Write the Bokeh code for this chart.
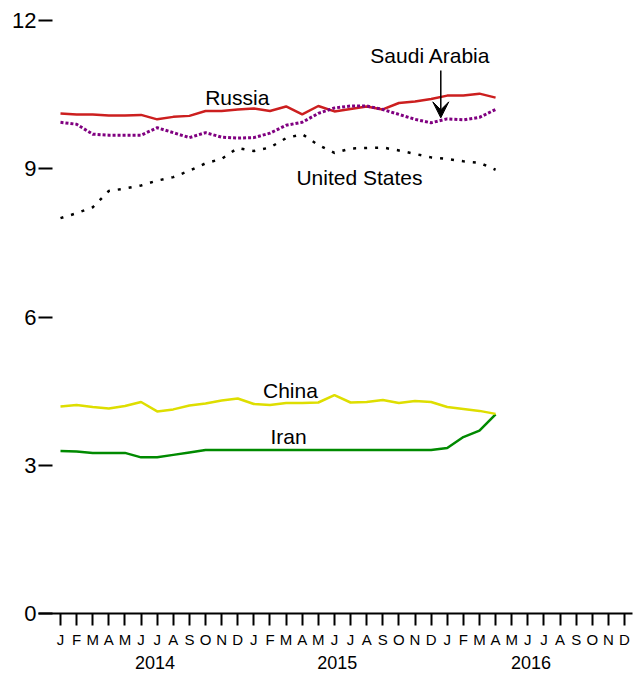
from bokeh.plotting import figure
from bokeh.models import Range1d, FixedTicker, LinearAxis, Arrow, VeeHead
from bokeh.core.properties import value
from bokeh.embed import file_html
from bokeh.resources import INLINE

# ---- data (monthly, Jan 2014 .. Apr 2016) ----
month_idx = list(range(28))
russia = [10.12, 10.10, 10.10, 10.08, 10.08, 10.09, 10.00, 10.05, 10.07, 10.17,
          10.17, 10.20, 10.22, 10.17, 10.26, 10.10, 10.27, 10.16, 10.21, 10.26,
          10.20, 10.33, 10.36, 10.41, 10.48, 10.48, 10.52, 10.44]
saudi = [9.94, 9.90, 9.70, 9.68, 9.68, 9.68, 9.83, 9.73, 9.63, 9.73,
         9.64, 9.62, 9.63, 9.72, 9.88, 9.94, 10.12, 10.23, 10.27, 10.27,
         10.20, 10.10, 10.00, 9.93, 10.01, 9.99, 10.04, 10.20]
usa = [8.00, 8.10, 8.22, 8.55, 8.60, 8.66, 8.76, 8.83, 8.96, 9.11,
       9.20, 9.42, 9.36, 9.43, 9.62, 9.70, 9.48, 9.32, 9.41, 9.42,
       9.43, 9.37, 9.30, 9.23, 9.20, 9.15, 9.12, 8.98]
china = [4.19, 4.22, 4.18, 4.15, 4.20, 4.28, 4.09, 4.13, 4.21, 4.25,
         4.31, 4.35, 4.24, 4.22, 4.26, 4.26, 4.27, 4.42, 4.27, 4.28,
         4.32, 4.26, 4.30, 4.28, 4.18, 4.14, 4.10, 4.04]
iran = [3.29, 3.28, 3.25, 3.25, 3.25, 3.16, 3.16, 3.21, 3.26, 3.31,
        3.31, 3.31, 3.31, 3.31, 3.31, 3.31, 3.31, 3.31, 3.31, 3.31,
        3.31, 3.31, 3.31, 3.31, 3.35, 3.57, 3.70, 4.03]

month_letters = ["J", "F", "M", "A", "M", "J", "J", "A", "S", "O", "N", "D"]
years = ["2014", "2015", "2016"]
year_pos = [5.86, 17.17, 29.2]
y_ticks = [0, 3, 6, 9, 12]

series_names = ["Russia", "Saudi Arabia", "United States", "China", "Iran"]
label_x = [10.97, 22.96, 18.55, 14.27, 14.15]
label_y = [10.442, 11.292, 8.813, 4.513, 3.572]

FONT = "Liberation Sans"

p = figure(width=640, height=674, output_backend="svg", toolbar_location=None,
           x_range=Range1d(-1.365, 35.497), y_range=Range1d(0, 12),
           min_border_left=38, min_border_right=8, min_border_top=20,
           min_border_bottom=61)
p.outline_line_color = None
p.xgrid.visible = False
p.ygrid.visible = False
p.background_fill_color = "white"

# lines
p.line(month_idx, iran, line_color="#008a00", line_width=2.5)
p.line(month_idx, china, line_color="#dede00", line_width=2.5)
p.line(month_idx, usa, line_color="black", line_width=2.5, line_dash="3 8")
p.line(month_idx, russia, line_color="#cc1f1f", line_width=2.5)
p.line(month_idx, saudi, line_color="#800080", line_width=3, line_dash="3 2")

# series labels
p.text(x=label_x, y=label_y, text=series_names, text_align="center",
       text_baseline="middle", text_font=value(FONT),
       text_font_size="21px", text_color="black")

# arrow for Saudi Arabia
p.add_layout(Arrow(end=VeeHead(size=16, fill_color="black", line_color="black"),
                   x_start=23.6, y_start=10.99, x_end=23.6, y_end=10.03,
                   line_width=1.5, line_color="black"))

# x axis (months)
xa = p.xaxis[0]
xa.ticker = FixedTicker(ticks=list(range(36)))
xa.major_label_overrides = {i: month_letters[i % 12] for i in range(36)}
xa.major_label_text_font = FONT
xa.major_label_text_font_size = "15px"
xa.major_label_text_color = "black"
xa.major_tick_out = 12
xa.major_tick_in = 0
xa.major_tick_line_width = 2
xa.major_tick_line_color = "black"
xa.minor_tick_line_color = None
xa.axis_line_width = 2
xa.axis_line_color = "black"
xa.major_label_standoff = 5

# second x axis (years)
year_axis = LinearAxis(ticker=FixedTicker(ticks=year_pos),
                       major_label_overrides={pos: yr for pos, yr in zip(year_pos, years)},
                       axis_line_color=None, major_tick_line_color=None,
                       minor_tick_line_color=None, major_tick_in=0, major_tick_out=0,
                       major_label_standoff=5, major_label_text_font=FONT,
                       major_label_text_font_size="18px", major_label_text_color="black")
p.add_layout(year_axis, "below")

# y axis
ya = p.yaxis[0]
ya.ticker = FixedTicker(ticks=y_ticks)
ya.major_label_text_font = FONT
ya.major_label_text_font_size = "22px"
ya.major_label_text_color = "black"
ya.axis_line_color = None
ya.major_tick_in = 14
ya.major_tick_out = 0
ya.major_tick_line_width = 2
ya.major_tick_line_color = "black"
ya.minor_tick_line_color = None
ya.major_label_standoff = 2

open("out.html", "w").write(file_html(p, INLINE))
